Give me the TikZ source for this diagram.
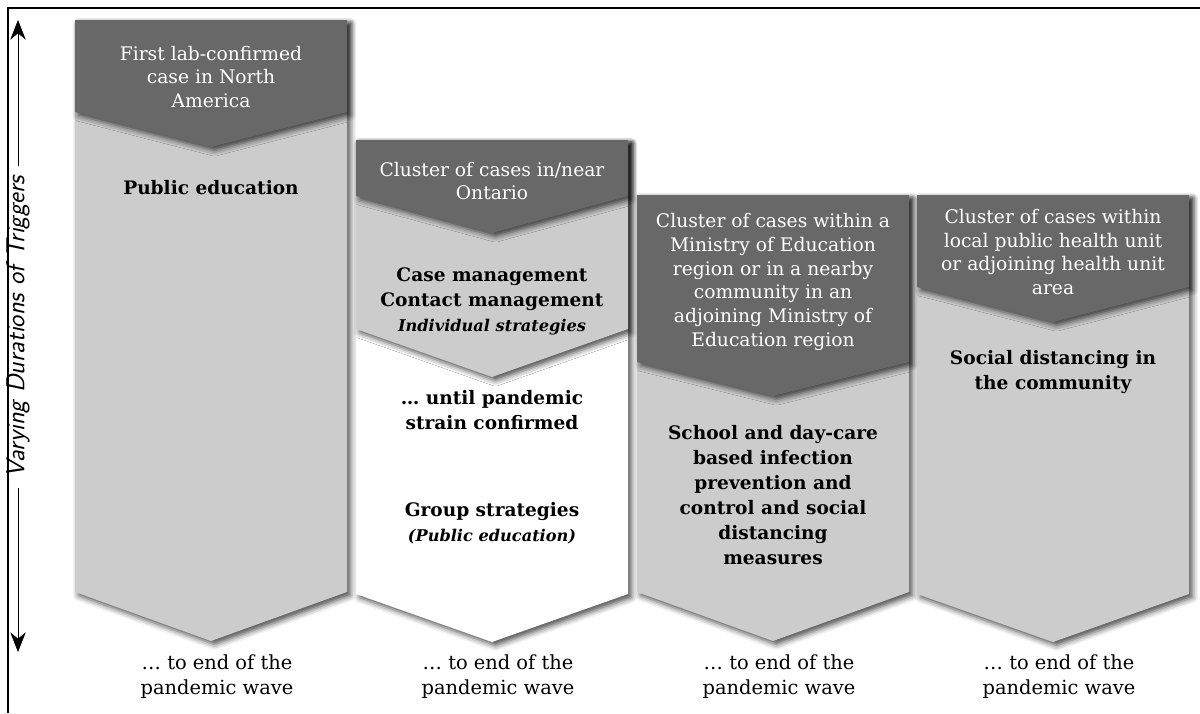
\documentclass[tikz,border=0pt]{standalone}
\usepackage{fontspec}
\setmainfont{DejaVu Serif}
\usepackage{tikz}
\usetikzlibrary{arrows.meta,shadows.blur}
\definecolor{hdrgray}{RGB}{104,104,104}
\definecolor{bodygray}{RGB}{204,204,204}
\tikzset{
  shd/.style={blur shadow={shadow xshift=2.5pt,shadow yshift=-2.5pt,shadow blur radius=4pt,shadow opacity=70}},
  hdr/.style={fill=hdrgray,shd},
  bdy/.style={fill=bodygray,shd},
  hdrtext/.style={text=white,align=center,font=\fontsize{13.3}{17}\selectfont},
  bdytext/.style={align=center,font=\fontsize{13.2}{17.8}\selectfont\bfseries},
  endtext/.style={align=center,font=\fontsize{13.8}{17.8}\selectfont},
}
\begin{document}
\begin{tikzpicture}[x=0.025cm,y=-0.025cm]
\useasboundingbox (0,0) rectangle (1200,713);
% frame
\draw[line width=1.5pt] (8,713)--(8,8)--(1200,8);
% axis
\node[rotate=90,inner sep=7pt,font=\fontsize{18.5}{20}\sffamily\itshape] (durations) at (18,327) {Varying Durations of Triggers};
\coordinate (axtop) at (18,20);
\coordinate (axbot) at (18,652);
\draw[-{Stealth[length=14pt,width=11pt]}] (durations.east)--(axtop);
\draw[-{Stealth[length=14pt,width=11pt]}] (durations.west)--(axbot);
% column 1
\fill[bdy] (75,20)--(347,20)--(347,592)--(211,641)--(75,592)--cycle;
\fill[hdr] (75,20)--(347,20)--(347,112)--(211,147)--(75,112)--cycle;
\node[hdrtext] (first) at (211,77) {First lab-confirmed\\case in North\\America};
\node[bdytext] (pubedu) at (211,188) {Public education};
\node[endtext] (end1) at (217,677) {\ldots\ to end of the\\pandemic wave};
% column 2
\fill[fill=white,shd] (356,140)--(628,140)--(628,594)--(492,642)--(356,594)--cycle;
\fill[bdy] (356,140)--(628,140)--(628,329)--(492,377)--(356,329)--cycle;
\fill[hdr] (356,140)--(628,140)--(628,196)--(492,233)--(356,196)--cycle;
\node[hdrtext] (ontario) at (492,181) {Cluster of cases in/near\\Ontario};
\node[bdytext] (casemgmt) at (492,301) {Case management\\Contact management\\{\itshape\fontsize{11.5}{14}\selectfont Individual strategies}};
\node[bdytext] (until) at (492,410) {\ldots\ until pandemic\\strain confirmed};
\node[bdytext] (group) at (492,523) {Group strategies\\{\itshape\fontsize{11.5}{14}\selectfont (Public education)}};
\node[endtext] (end2) at (498,677) {\ldots\ to end of the\\pandemic wave};
% column 3
\fill[bdy] (637,195)--(909,195)--(909,592)--(773,641)--(637,592)--cycle;
\fill[hdr] (637,195)--(909,195)--(909,362)--(773,396)--(637,362)--cycle;
\node[hdrtext] (ministry) at (773,282) {Cluster of cases within a\\Ministry of Education\\region or in a nearby\\community in an\\adjoining Ministry of\\Education region};
\node[bdytext] (school) at (773,495) {School and day-care\\based infection\\prevention and\\control and social\\distancing\\measures};
\node[endtext] (end3) at (779,677) {\ldots\ to end of the\\pandemic wave};
% column 4
\fill[bdy] (917,195)--(1189,195)--(1189,594)--(1053,642)--(917,594)--cycle;
\fill[hdr] (917,195)--(1189,195)--(1189,287)--(1053,322)--(917,287)--cycle;
\node[hdrtext] (healthunit) at (1053,252) {Cluster of cases within\\local public health unit\\or adjoining health unit\\area};
\node[bdytext] (social) at (1053,372) {Social distancing in\\the community};
\node[endtext] (end4) at (1059,677) {\ldots\ to end of the\\pandemic wave};
\end{tikzpicture}
\end{document}
